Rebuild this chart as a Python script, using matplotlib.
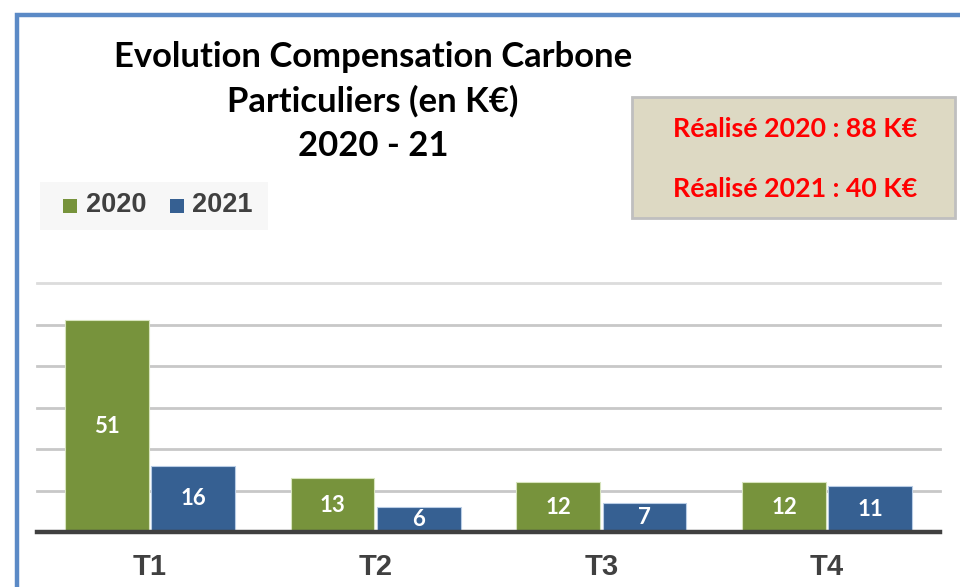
import matplotlib
matplotlib.use("Agg")
import matplotlib.pyplot as plt
import numpy as np
from matplotlib.patches import Rectangle

categories = ["T1", "T2", "T3", "T4"]
series_names = ["2020", "2021"]
values_2020 = [51, 13, 12, 12]
values_2021 = [16, 6, 7, 11]
title_lines = ["Evolution Compensation Carbone", "Particuliers (en K\u20ac)", "2020 - 21"]
box_lines = ["R\u00e9alis\u00e9 2020 : 88 K\u20ac", "R\u00e9alis\u00e9 2021 : 40 K\u20ac"]

green = "#77933C"
blue = "#366092"

W, H = 960, 587
fig = plt.figure(figsize=(W / 100, H / 100), dpi=100)
fig.patch.set_facecolor("white")

def fx(px):
    return px / W

def fy(py):
    return 1 - py / H

# outer blue border (extends beyond right/bottom)
fig.patches.append(Rectangle((fx(16.5), fy(1000)), fx(2000), fy(15.5) - fy(1000),
                             transform=fig.transFigure, fill=False,
                             edgecolor="#5B8AC6", linewidth=3.2, zorder=0))

ax = fig.add_axes([fx(37), fy(532), fx(940) - fx(37), fy(283) - fy(532)])
ax.set_facecolor("none")
x = np.arange(len(categories))
bw = 0.372
gap = 0.005
ax.bar(x - bw / 2 - gap, values_2020, bw, color=green, edgecolor="#D7E4BD",
       linewidth=0.8, zorder=3)
ax.bar(x + bw / 2 + gap, values_2021, bw, color=blue, edgecolor="#B9CDE5",
       linewidth=0.8, zorder=3)

for xi, v in zip(x, values_2020):
    ax.text(xi - bw / 2 - gap, v / 2, str(v), ha="center", va="center",
            color="white", fontsize=16, fontweight="bold", family="Lato", zorder=4)
for xi, v in zip(x, values_2021):
    ax.text(xi + bw / 2 + gap, v / 2, str(v), ha="center", va="center",
            color="white", fontsize=16, fontweight="bold", family="Lato", zorder=4)

ax.set_xlim(-0.5, len(categories) - 0.5)
ax.set_ylim(0, 60)
for yv in range(10, 61, 10):
    ax.axhline(yv, color="#C8C8C8" if yv < 60 else "#DCDCDC", linewidth=2.0,
               zorder=1, clip_on=False)
ax.axhline(0, color="#404040", linewidth=3.2, zorder=5, clip_on=False)
for s in ax.spines.values():
    s.set_visible(False)
ax.set_yticks([])
ax.set_xticks(x)
ax.set_xticklabels(categories, fontsize=21, fontweight="bold",
                   family="Liberation Sans", color="#404040")
ax.tick_params(axis="x", length=0, pad=15)

# title
for i, line in enumerate(title_lines):
    fig.text(fx(373), fy(57 + i * 44.5), line, ha="center", va="center",
             fontsize=24.9, fontweight="bold", family="Lato", color="black")

# legend
fig.patches.append(Rectangle((fx(40), fy(230)), fx(268) - fx(40), fy(182) - fy(230),
                             transform=fig.transFigure, facecolor="#F7F7F7",
                             edgecolor="none", zorder=1))
fig.patches.append(Rectangle((fx(63), fy(213)), fx(14), fy(199) - fy(213),
                             transform=fig.transFigure, facecolor=green,
                             edgecolor="none", zorder=2))
fig.patches.append(Rectangle((fx(170), fy(213)), fx(14), fy(199) - fy(213),
                             transform=fig.transFigure, facecolor=blue,
                             edgecolor="none", zorder=2))
fig.text(fx(86), fy(205), series_names[0], ha="left", va="center", fontsize=19.5,
         fontweight="bold", family="Liberation Sans", color="#404040")
fig.text(fx(192), fy(205), series_names[1], ha="left", va="center", fontsize=19.5,
         fontweight="bold", family="Liberation Sans", color="#404040")

# info box
fig.patches.append(Rectangle((fx(631.5), fy(218)), fx(955) - fx(631.5), fy(97) - fy(218),
                             transform=fig.transFigure, facecolor="#DDD9C3",
                             edgecolor="#BFBFBF", linewidth=2, zorder=1))
for i, line in enumerate(box_lines):
    fig.text(fx(795), fy(129 + i * 60), line, ha="center", va="center",
             fontsize=19.3, fontweight="bold", family="Lato", color="#FF0000", zorder=3)

fig.savefig("out.png", dpi=100)
